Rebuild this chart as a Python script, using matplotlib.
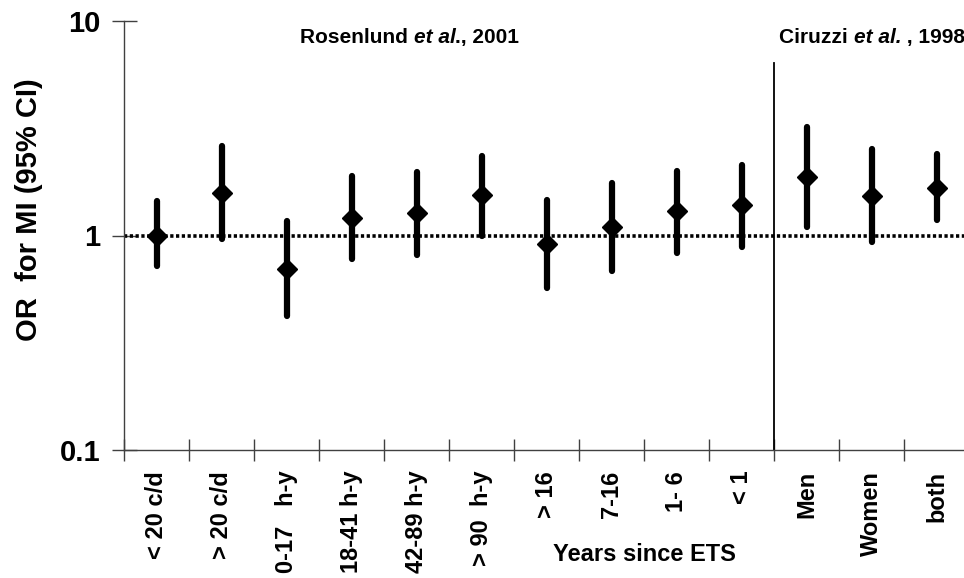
import numpy as np
import matplotlib
matplotlib.use("Agg")
import matplotlib.pyplot as plt

plt.rcParams['font.family'] = ['Liberation Sans', 'DejaVu Sans']
plt.rcParams['font.weight'] = 'bold'

# categories on the x axis
labels = ["< 20 c/d", "> 20 c/d", "0-17   h-y", "18-41 h-y", "42-89 h-y", "> 90  h-y",
          "> 16", "7-16", "1- 6", "< 1", "Men", "Women", "both"]
# odds ratio and 95% CI
odds = [1.00, 1.58, 0.70, 1.21, 1.27, 1.54, 0.91, 1.10, 1.30, 1.38, 1.88, 1.52, 1.66]
ci_low = [0.72, 0.96, 0.42, 0.78, 0.81, 1.00, 0.57, 0.68, 0.83, 0.885, 1.10, 0.93, 1.18]
ci_high = [1.45, 2.61, 1.17, 1.90, 1.97, 2.36, 1.47, 1.76, 2.00, 2.13, 3.20, 2.52, 2.39]
split_at = 10  # Rosenlund | Ciruzzi

fig = plt.figure(figsize=(9.64, 5.78), dpi=100)
ax = fig.add_axes([124/964, 1-450/578, (969-124)/964, (450-21)/578])

x = np.arange(len(labels)) + 0.5
ax.vlines(x, ci_low, ci_high, color='black', lw=4.5, capstyle='round', zorder=3)
ax.plot(x, odds, 'D', color='black', ms=10.5, zorder=4)

ax.axhline(1, color='black', lw=2.6, ls=(0, (0.9, 0.7)), zorder=2)
ax.plot([split_at, split_at], [0.1, 6.4], color='black', lw=1.3, zorder=2)

ax.set_yscale('log')
ax.set_ylim(0.1, 10)
ax.set_xlim(0, len(labels))
ax.set_yticks([0.1, 1, 10])
ax.set_yticklabels(["0.1", "1", "10"], fontsize=21, fontweight='bold')
ax.yaxis.set_minor_locator(matplotlib.ticker.NullLocator())
ax.tick_params(axis='y', direction='inout', length=18, width=1, pad=8, color='#404040')

ax.set_xticks(x)
ax.set_xticklabels(labels, rotation=90, fontsize=17, fontweight='bold', va='top')
ax.set_xticks(np.arange(len(labels) + 1), minor=True)
ax.tick_params(axis='x', which='major', length=0, pad=15)
ax.tick_params(axis='x', which='minor', direction='inout', length=16, width=1, color='#404040')

for s in ['top', 'right']:
    ax.spines[s].set_visible(False)
for s in ['left', 'bottom']:
    ax.spines[s].set_color('#404040')
    ax.spines[s].set_linewidth(1)

ax.set_ylabel("OR  for MI (95% CI)", fontsize=21, fontweight='bold')
ax.yaxis.set_label_coords(-0.096, 0.56)


def mixed(xd, yd, parts, size=15):
    prev = None
    for txt, style in parts:
        if prev is None:
            prev = ax.text(xd, yd, txt, fontsize=size, fontweight='bold', fontstyle=style,
                           ha='left', va='center', clip_on=False)
        else:
            prev = ax.annotate(txt, xy=(1, 0.5), xycoords=prev, fontsize=size,
                               fontweight='bold', fontstyle=style, ha='left', va='center',
                               annotation_clip=False)


mixed((300-124)/65, 10**((236-38)/214.5), [("Rosenlund ", 'normal'), ("et al", 'italic'), ("., 2001", 'normal')])
mixed((779-124)/65, 10**((236-38)/214.5), [("Ciruzzi ", 'normal'), ("et al.", 'italic'), (" , 1998", 'normal')])

ax.text(8, -0.243, "Years since ETS", transform=ax.get_xaxis_transform(), fontsize=17,
        fontweight='bold', ha='center', va='center')

fig.savefig("out.png", dpi=100)
